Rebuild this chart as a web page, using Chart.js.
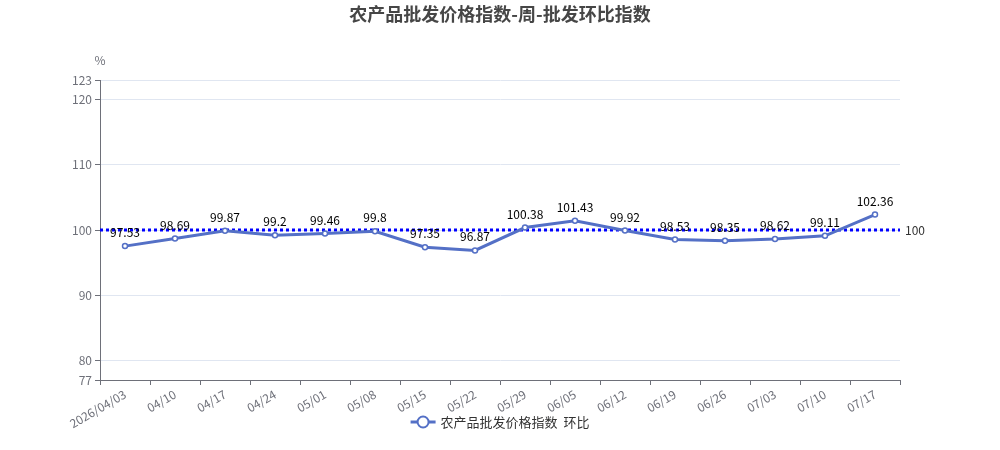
<!DOCTYPE html>
<html><head><meta charset="utf-8">
<script src="https://cdn.jsdelivr.net/npm/chart.js@4"></script>
<style>html,body{margin:0;padding:0;background:#fff}#w{width:1000px;height:450px}</style>
</head><body><div id="w"><canvas id="c" width="1000" height="450" style="width:1000px;height:450px"></canvas></div>
<script>
const categories = ['2026/04/03','04/10','04/17','04/24','05/01','05/08','05/15','05/22','05/29','06/05','06/12','06/19','06/26','07/03','07/10','07/17'];
const seriesValues = [97.53,98.69,99.87,99.2,99.46,99.8,97.35,96.87,100.38,101.43,99.92,98.53,98.35,98.62,99.11,102.36];
const yTickValues = [77,80,90,100,110,120,123];
const markValue = 100;
const seriesName = '农产品批发价格指数  环比';
const titleText = '农产品批发价格指数-周-批发环比指数';
const unitText = '%';

const FONT = '"Noto Sans CJK SC","Noto Sans",sans-serif';
const LINE = '#5470C6';
const AXIS = '#6E7079';

const extras = {
  id: 'extras',
  beforeDatasetsDraw(chart) {
    const {ctx, chartArea} = chart;
    const y = chart.scales.y.getPixelForValue(markValue);
    ctx.save();
    ctx.strokeStyle = '#0000FF';
    ctx.lineWidth = 3;
    ctx.setLineDash([3, 3]);
    ctx.beginPath();
    ctx.moveTo(chartArea.left, y);
    ctx.lineTo(chartArea.right, y);
    ctx.stroke();
    ctx.setLineDash([]);
    ctx.fillStyle = '#333';
    ctx.font = '12px ' + FONT;
    ctx.textAlign = 'left';
    ctx.textBaseline = 'middle';
    ctx.fillText(String(markValue), chartArea.right + 5, y);
    ctx.restore();
  },
  afterDatasetsDraw(chart) {
    const {ctx, chartArea} = chart;
    const meta = chart.getDatasetMeta(0);
    ctx.save();
    ctx.fillStyle = '#000';
    ctx.font = '12px ' + FONT;
    ctx.textAlign = 'center';
    ctx.textBaseline = 'bottom';
    meta.data.forEach((pt, i) => {
      ctx.fillText(String(seriesValues[i]), pt.x, pt.y - 7.5);
    });
    ctx.fillStyle = AXIS;
    ctx.textBaseline = 'middle';
    ctx.fillText(unitText, chartArea.left, 60);
    // title
    ctx.fillStyle = '#464646';
    ctx.font = 'bold 18px ' + FONT;
    ctx.fillText(titleText, chart.width / 2, 14);
    // legend
    const ly = 422;
    const cx = 500;
    ctx.font = '13px ' + FONT;
    const tw = ctx.measureText(seriesName).width;
    const total = 25 + 5 + tw;
    const x0 = cx - total / 2;
    ctx.strokeStyle = LINE;
    ctx.lineWidth = 3;
    ctx.beginPath(); ctx.moveTo(x0, ly); ctx.lineTo(x0 + 25, ly); ctx.stroke();
    ctx.beginPath(); ctx.arc(x0 + 12.5, ly, 5.5, 0, Math.PI * 2);
    ctx.fillStyle = '#fff'; ctx.fill();
    ctx.lineWidth = 2; ctx.stroke();
    ctx.fillStyle = '#333';
    ctx.textAlign = 'left';
    ctx.fillText(seriesName, x0 + 30, ly);
    ctx.restore();
  }
};

new Chart(document.getElementById('c'), {
  type: 'line',
  data: {
    labels: categories,
    datasets: [{
      label: seriesName,
      data: seriesValues,
      borderColor: LINE,
      backgroundColor: '#fff',
      borderWidth: 3,
      pointRadius: 2.5,
      pointBorderWidth: 1.5,
      pointBorderColor: LINE,
      pointBackgroundColor: '#fff',
      tension: 0
    }]
  },
  options: {
    responsive: false,
    maintainAspectRatio: false,
    animation: false,
    devicePixelRatio: 1,
    layout: {padding: {top: 80, left: 0, right: 100, bottom: 0}},
    plugins: {
      legend: {display: false},
      tooltip: {enabled: false},
      title: {display: false}
    },
    scales: {
      x: {
        offset: true,
        grid: {offset: true, drawOnChartArea: false, drawTicks: true, tickLength: 5, color: AXIS, tickColor: AXIS},
        border: {display: true, color: AXIS, width: 1},
        ticks: {color: AXIS, font: {family: FONT, size: 12}, minRotation: 30, maxRotation: 30, autoSkip: false, padding: 2},
        afterFit(s) { s.height = 70; }
      },
      y: {
        min: 77, max: 123,
        afterBuildTicks(s) { s.ticks = yTickValues.map(v => ({value: v})); },
        grid: {color: '#E0E6F1', tickColor: AXIS, tickLength: 5, drawTicks: true},
        border: {display: true, color: AXIS, width: 1},
        ticks: {color: AXIS, font: {family: FONT, size: 12}, padding: 3, autoSkip: false},
        afterFit(s) { s.width = 100; }
      }
    }
  },
  plugins: [extras]
});
</script></body></html>
